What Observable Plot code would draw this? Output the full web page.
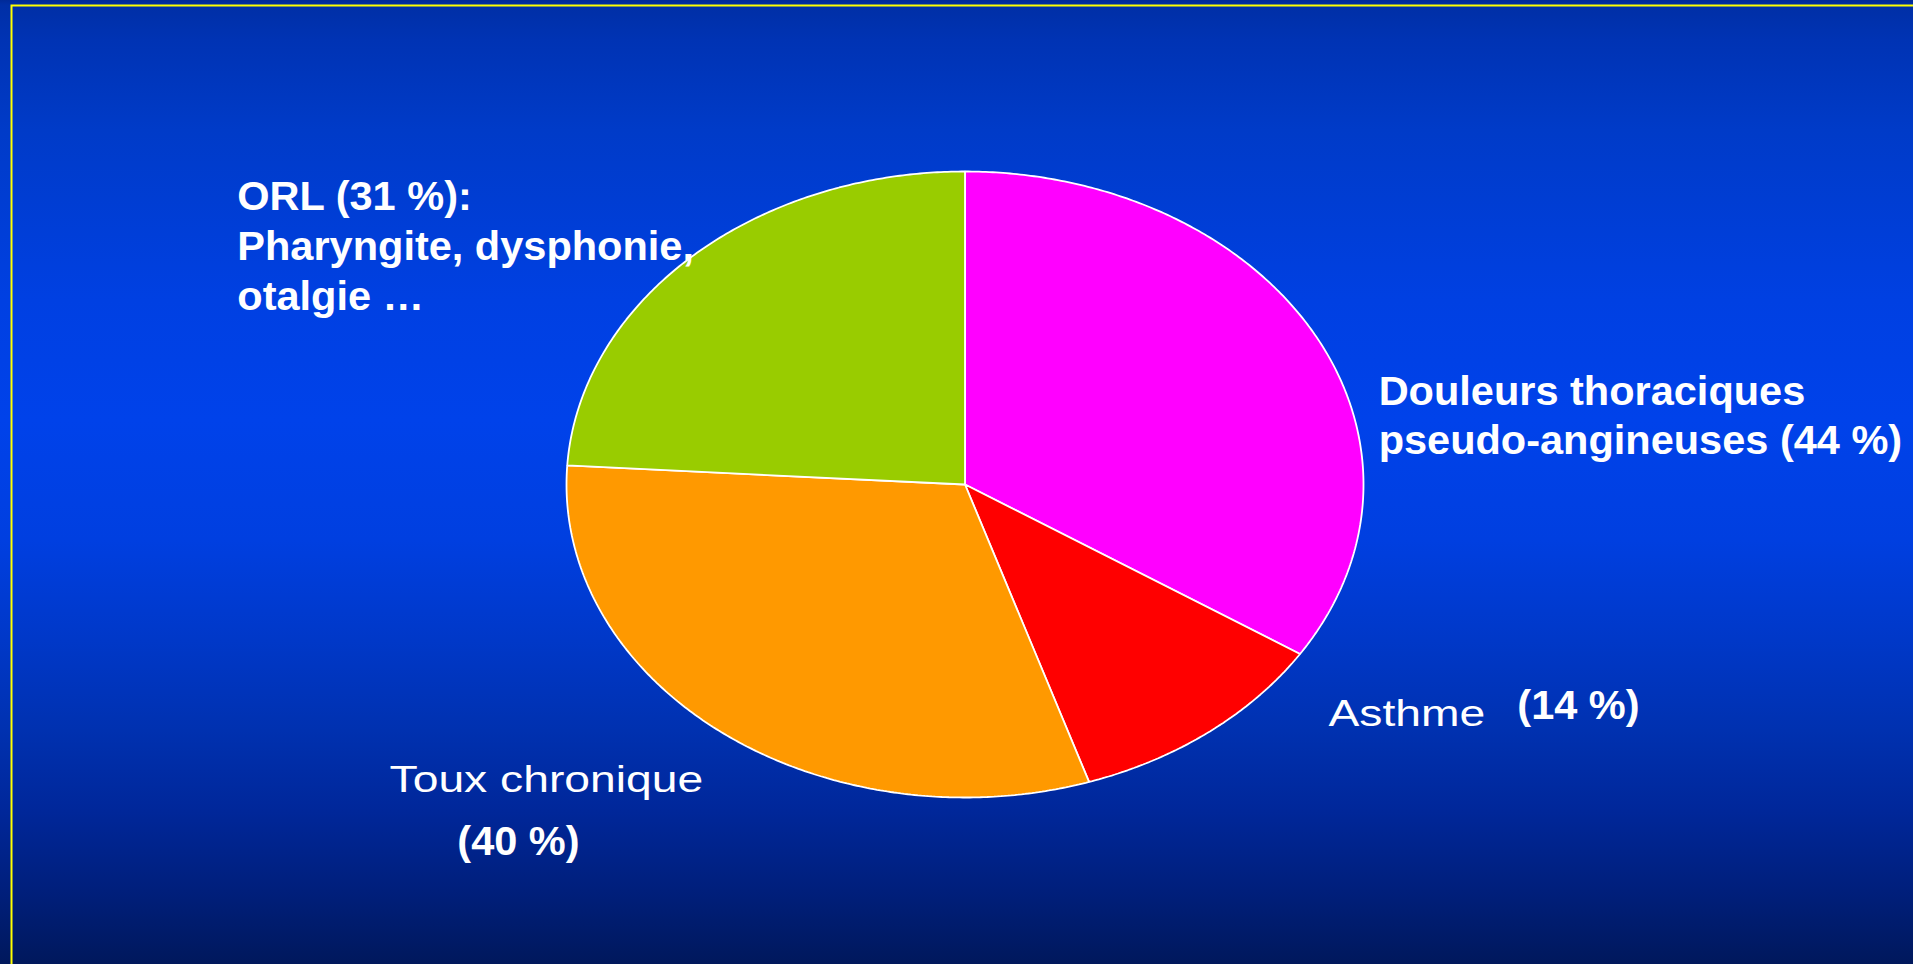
<!DOCTYPE html>
<html lang="fr">
<head>
<meta charset="utf-8">
<title>Manifestations extra-digestives</title>
<script src="https://cdn.jsdelivr.net/npm/d3@7"></script>
<script src="https://cdn.jsdelivr.net/npm/@observablehq/plot@0.6"></script>
<style>
  html, body { margin: 0; padding: 0; overflow: hidden; background: #001a60; }
  #chart svg { display: block; }
</style>
</head>
<body>
<div id="chart"></div>
<script>
// Share of patients per group of symptoms (%)
const categories = ["Douleurs thoraciques pseudo-angineuses", "Asthme", "Toux chronique", "ORL"];
const shares = [44, 14, 40, 31];
const sliceColors = ["#ff00ff", "#ff0000", "#ff9900", "#99cc00"];

// Label texts, built from the same shares
const boldLabels = [
  `ORL (${shares[3]} %):\nPharyngite, dysphonie,\notalgie …`,
  `Douleurs thoraciques\npseudo-angineuses (${shares[0]} %)`,
  `(${shares[1]} %)`,
  `(${shares[2]} %)`
];
const plainLabels = ["Asthme", "Toux chronique"];

// Where each label sits, in pie units (radius = 1)
const boldAt = [[-1.826, 0.559], [1.038, 0.096], [1.386, -0.748], [-1.274, -1.185]];
const plainAt = [[0.912, -0.770], [-1.444, -0.984]];

// Slice outlines: centre, then the arc from start to end angle (clockwise from 12 o'clock)
const arcs = d3.pie().sort(null).value(d => d)(shares);
const slicePoints = arcs.flatMap((a, i) => {
  const steps = Math.max(2, Math.ceil((a.endAngle - a.startAngle) / (Math.PI / 360)));
  const pts = [{slice: categories[i], x: 0, y: 0}];
  for (let k = 0; k <= steps; ++k) {
    const t = a.startAngle + (a.endAngle - a.startAngle) * k / steps;
    pts.push({slice: categories[i], x: Math.sin(t), y: Math.cos(t)});
  }
  return pts;
});

const boldData = boldLabels.map((t, i) => ({text: t, x: boldAt[i][0], y: boldAt[i][1]}));
const plainData = plainLabels.map((t, i) => ({text: t, x: plainAt[i][0], y: plainAt[i][1]}));

const font = "'Liberation Sans', Arial, Helvetica, sans-serif";

const chart = Plot.plot({
  width: 1913,
  height: 964,
  margin: 0,
  style: {
    background: "linear-gradient(to bottom, #002a98 0px, #002fa6 5px, #0033b4 40px, #003bc8 130px, #0040e2 300px, #0042ea 420px, #003fe0 540px, #0038c8 640px, #0031b0 730px, #00279a 810px, #001f7c 890px, #00185c 964px)",
    fontFamily: font
  },
  x: {domain: [-1, 1], range: [566, 1363], axis: null},
  y: {domain: [-1, 1], range: [797, 171], axis: null},
  color: {domain: categories, range: sliceColors},
  marks: [
    Plot.frame({stroke: "#ffff00", strokeWidth: 2, insetLeft: 11, insetTop: 5, insetRight: -20, insetBottom: -20}),
    Plot.line(slicePoints, {
      x: "x", y: "y", z: "slice", fill: "slice",
      stroke: "white", strokeWidth: 1.8, strokeLinejoin: "miter",
      curve: "linear-closed"
    }),
    Plot.text(boldData, {
      x: "x", y: "y", text: "text",
      textAnchor: "start", lineAnchor: "bottom", lineHeight: 1.2,
      fontSize: 41.5, fontWeight: "bold", fill: "white", fontFamily: font
    }),
    Plot.text(plainData, {
      x: "x", y: "y", text: "text",
      textAnchor: "start", lineAnchor: "bottom",
      fontSize: 37, fontWeight: "normal", fill: "white", fontFamily: font
    })
  ]
});

// The plain labels are set wide: stretch them horizontally about their anchor
d3.select(chart).selectAll("text")
  .filter(function () { return plainLabels.includes(this.textContent); })
  .each(function () {
    let t = this.getAttribute("transform");
    if (!t) {
      const x = this.getAttribute("x") || 0, y = this.getAttribute("y") || 0;
      this.removeAttribute("x");
      this.removeAttribute("y");
      t = `translate(${x},${y})`;
    }
    this.setAttribute("transform", t + " scale(1.25,1)");
  });

document.getElementById("chart").append(chart);
</script>
</body>
</html>
